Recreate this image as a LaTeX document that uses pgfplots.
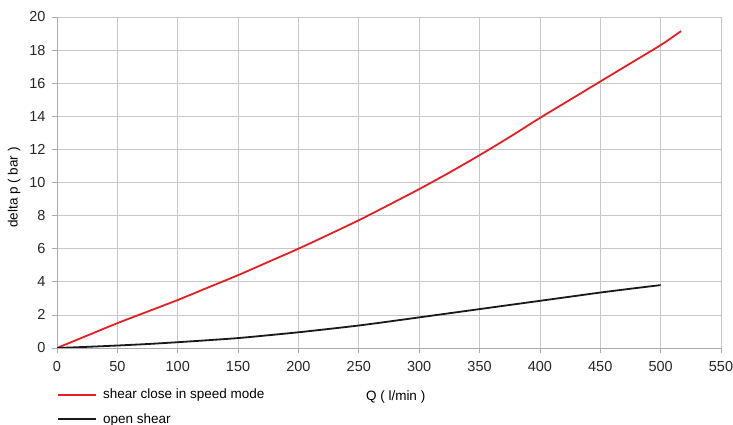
\documentclass[border=0pt]{standalone}
\usepackage{pgfplots}
\pgfplotsset{compat=1.18}
\usepackage{fontspec}
\setmainfont{Liberation Sans}
\definecolor{gridgray}{RGB}{200,200,200}
\definecolor{axgray}{RGB}{170,170,170}
\definecolor{myred}{RGB}{230,30,35}
\begin{document}
\begin{tikzpicture}[x=1pt,y=1pt]
\useasboundingbox (0,0) rectangle (733,425);
\begin{axis}[
  at={(57pt,77pt)}, anchor=south west,
  scale only axis, width=664pt, height=331pt,
  xmin=0, xmax=550, ymin=0, ymax=20,
  xtick={0,50,...,550}, ytick={0,2,...,20},
  grid=major, grid style={gridgray, line width=0.7pt},
  axis line style={axgray, line width=0.7pt},
  tick style={axgray, line width=0.7pt},
  tick align=outside, major tick length=5pt,
  axis x line*=bottom, axis y line*=left,
  /pgf/number format/assume math mode=true,
  ticklabel style={font=\fontsize{14.5}{16}\selectfont, text=black!85},
  xticklabel style={yshift=-5pt},
  yticklabel style={xshift=-3pt},
  xlabel={Q ( l/min )},
  xlabel style={font=\fontsize{13.5}{15}\selectfont, at={(rel axis cs:0.51,0)}, anchor=center, yshift=-49pt},
  ylabel={delta p ( bar )},
  ylabel style={font=\fontsize{13.5}{15}\selectfont, at={(rel axis cs:-0.0645,0.485)}, anchor=center},
  legend style={at={(rel axis cs:0,0)}, anchor=north west, yshift=-40pt, draw=none, fill=none, inner sep=0pt,
    font=\fontsize{13.5}{15}\selectfont, row sep=11pt, nodes={inner ysep=1pt, inner xsep=6pt}},
  legend cell align=left,
  legend image code/.code={\draw[#1, line width=1.8pt] (-6pt,0pt) -- (32pt,0pt);},
]
\addplot[myred, line width=1.8pt, smooth] coordinates {
(0,0) (25,0.75) (50,1.5) (75,2.2) (100,2.9) (125,3.65) (150,4.4) (175,5.2) (200,6.0) (225,6.85) (250,7.72) (275,8.65) (300,9.6) (325,10.6) (350,11.65) (375,12.75) (400,13.9) (425,15.0) (450,16.1) (475,17.2) (500,18.3) (517,19.15)
};
\addlegendentry{shear close in speed mode}
\addplot[black!90, line width=1.8pt, smooth] coordinates {
(0,0) (25,0.07) (50,0.15) (75,0.24) (100,0.35) (125,0.47) (150,0.6) (175,0.77) (200,0.95) (225,1.15) (250,1.36) (275,1.6) (300,1.85) (325,2.1) (350,2.35) (375,2.6) (400,2.85) (425,3.1) (450,3.35) (475,3.58) (500,3.8)
};
\addlegendentry{open shear}
\end{axis}
\end{tikzpicture}
\end{document}
